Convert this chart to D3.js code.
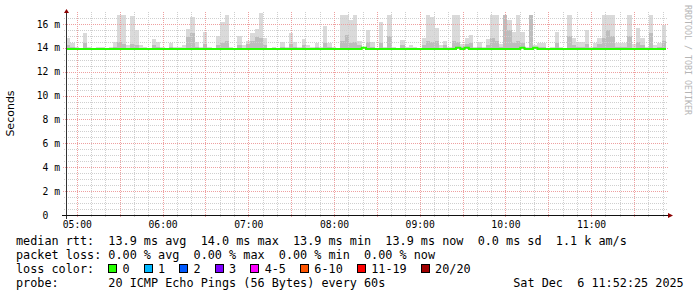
<!DOCTYPE html>
<html>
<head>
<meta charset="utf-8">
<script src="https://cdn.jsdelivr.net/npm/d3@7"></script>
<style>
  html, body { margin: 0; padding: 0; background: #fff; }
  svg { display: block; }
</style>
</head>
<body>
<div id="chart"></div>
<script>
// time span of the graph (7 hours, one value per 3 minutes)
const startTime = new Date(2025, 11, 6, 4, 52, 25);
const endTime = new Date(2025, 11, 6, 11, 52, 25);
const stepMinutes = 3;

// top of the smoke (slowest ping) in ms, per step
const smokeHi = [
  14.8, 14.4, 14.1, 14.0, 15.2, 14.1, 14.0, 14.1, 14.1, 14.0,
  14.1, 14.5, 16.75, 16.75, 14.2, 16.7, 15.5, 14.2, 14.1, 14.0,
  14.7, 14.5, 14.1, 14.0, 14.4, 14.1, 14.1, 14.2, 15.6, 16.6,
  14.5, 14.1, 15.3, 14.1, 14.0, 15.0, 16.2, 16.75, 14.1, 14.0,
  15.0, 14.2, 14.6, 15.2, 15.6, 16.9, 14.8, 14.0, 14.1, 14.0,
  14.5, 14.1, 15.2, 14.5, 14.1, 14.7, 14.2, 14.1, 14.4, 14.1,
  15.8, 14.4, 14.1, 14.0, 16.75, 16.75, 16.3, 16.75, 14.6, 14.1,
  15.5, 14.5, 14.0, 16.2, 14.1, 16.75, 14.1, 14.0, 14.65, 14.1,
  14.2, 14.1, 14.0, 14.8, 16.75, 16.6, 15.7, 14.2, 14.6, 14.1,
  16.75, 16.75, 14.3, 14.8, 15.1, 14.1, 14.5, 14.1, 14.7, 16.75,
  16.75, 14.3, 16.75, 16.3, 15.3, 16.75, 15.3, 14.1, 16.75, 14.2,
  14.4, 14.4, 14.0, 14.1, 15.3, 14.1, 14.0, 16.75, 14.8, 14.5,
  14.5, 15.5, 14.1, 14.4, 14.8, 16.75, 16.75, 16.75, 14.4, 14.4,
  14.4, 16.75, 14.3, 15.7, 14.8, 14.1, 16.75, 14.2, 14.4, 15.9
];

// top of the dense (darker) part of the smoke in ms
const smokeMid = [
  14.2, 14.1, 14.0, 14.0, 14.4, 14.0, 14.0, 14.0, 14.0, 14.0,
  14.0, 14.1, 14.5, 14.3, 14.0, 14.3, 14.2, 14.0, 14.0, 14.0,
  14.2, 14.1, 14.0, 14.0, 14.1, 14.0, 14.0, 14.0, 14.9, 15.2,
  14.1, 14.0, 14.3, 14.0, 14.0, 14.2, 14.4, 14.6, 14.0, 14.0,
  14.2, 14.0, 14.3, 14.6, 14.9, 14.8, 14.2, 14.0, 14.0, 14.0,
  14.1, 14.0, 14.3, 14.1, 14.0, 14.2, 14.0, 14.0, 14.1, 14.0,
  14.4, 14.1, 14.0, 14.0, 14.6, 15.1, 14.4, 14.5, 14.2, 14.0,
  14.5, 14.1, 14.0, 14.4, 14.0, 15.0, 14.0, 14.0, 14.2, 14.0,
  14.0, 14.0, 14.0, 14.2, 14.6, 14.5, 14.6, 14.0, 14.2, 14.0,
  14.6, 14.5, 14.1, 14.3, 14.4, 14.0, 14.1, 14.0, 14.2, 14.8,
  14.6, 14.1, 16.75, 15.5, 14.4, 14.6, 14.4, 14.0, 16.75, 14.0,
  14.1, 14.1, 14.0, 14.0, 14.4, 14.0, 14.0, 15.0, 14.2, 14.1,
  14.1, 14.3, 14.0, 14.1, 14.3, 14.8, 15.5, 15.0, 14.1, 14.1,
  14.1, 15.0, 14.0, 14.5, 14.2, 14.0, 15.2, 14.0, 14.1, 14.6
];

// median rtt in ms
const median = [
  13.9, 13.9, 13.9, 13.9, 13.9, 13.9, 13.9, 13.9, 13.9, 13.9,
  13.9, 13.9, 13.9, 13.9, 13.9, 13.9, 13.9, 13.9, 13.9, 13.9,
  13.9, 13.9, 13.9, 13.9, 13.9, 13.9, 13.9, 13.9, 13.9, 13.9,
  13.9, 13.9, 13.9, 13.9, 13.9, 13.9, 13.9, 13.9, 13.9, 13.9,
  13.9, 13.9, 13.9, 13.9, 13.9, 13.9, 13.9, 13.9, 13.9, 13.9,
  13.9, 13.9, 13.9, 13.9, 13.9, 13.9, 13.9, 13.9, 13.9, 13.9,
  13.9, 13.9, 13.9, 13.9, 13.9, 13.9, 13.9, 13.9, 13.9, 14.0,
  13.9, 13.9, 13.9, 13.9, 13.9, 13.9, 13.9, 13.9, 13.9, 13.9,
  13.9, 13.9, 13.9, 13.9, 13.9, 13.9, 13.9, 13.9, 13.9, 13.9,
  13.9, 14.0, 13.9, 14.0, 13.9, 13.9, 13.9, 13.9, 13.9, 13.9,
  13.9, 13.9, 13.9, 13.9, 13.9, 13.9, 14.0, 13.9, 13.9, 14.0,
  13.9, 13.9, 13.9, 13.9, 13.9, 13.9, 13.9, 13.9, 13.9, 13.9,
  13.9, 13.9, 13.9, 13.9, 13.9, 13.9, 13.9, 13.9, 13.9, 13.9,
  13.9, 13.9, 13.9, 13.9, 13.9, 13.9, 13.9, 13.9, 13.9, 13.9
];

const yTicks = [0, 2, 4, 6, 8, 10, 12, 14, 16];
const yTickLabels = ['0\u00a0\u00a0', '2 m', '4 m', '6 m', '8 m', '10 m', '12 m', '14 m', '16 m'];
const xTickLabels = ['05:00', '06:00', '07:00', '08:00', '09:00', '10:00', '11:00'];

const legendLines = [
  'median rtt:  13.9 ms avg  14.0 ms max  13.9 ms min  13.9 ms now  0.0 ms sd  1.1 k am/s',
  'packet loss: 0.00 % avg  0.00 % max  0.00 % min  0.00 % now',
  'loss color:',
  'probe:       20 ICMP Echo Pings (56 Bytes) every 60s'
];
const lossLabels = ['0', '1', '2', '3', '4-5', '6-10', '11-19', '20/20'];
const lossColors = ['#26ff00', '#00b8ff', '#0059ff', '#7e00ff', '#ff00ff', '#ff5500', '#ff0000', '#a00000'];
const dateStamp = 'Sat Dec  6 11:52:25 2025';
const watermark = 'RRDTOOL / TOBI OETIKER';

// layout
const width = 697, height = 297;
const plot = { left: 66, right: 666, top: 12, bottom: 215 };
const mono = '"DejaVu Sans Mono", monospace';
const legendSize = 11.8;
const cw = legendSize * 0.602;
const nb = s => s.replace(/ /g, '\u00a0');

const x = d3.scaleTime().domain([startTime, endTime]).range([plot.left, plot.right]);
const y = d3.scaleLinear().domain([0, 17]).range([plot.bottom, plot.top]);
const binTime = i => d3.timeMinute.offset(startTime, i * stepMinutes);
const hourTimes = xTickLabels.map(s => new Date(2025, 11, 6, +s.slice(0, 2), +s.slice(3)));

const svg = d3.select('#chart').append('svg')
  .attr('width', width)
  .attr('height', height)
  .style('background', '#fff');

// smoke: light outer part, darker dense part
const smoke = svg.append('g').attr('shape-rendering', 'crispEdges');
[[smokeHi, '#dadada'], [smokeMid, '#bdbdbd']].forEach(([vals, color]) => {
  smoke.append('g').selectAll('rect')
    .data(vals)
    .join('rect')
    .attr('x', (d, i) => x(binTime(i)))
    .attr('width', (d, i) => x(binTime(i + 1)) - x(binTime(i)))
    .attr('y', d => y(d))
    .attr('height', (d, i) => Math.max(0, y(median[i]) - y(d)))
    .attr('fill', color);
});

// grid, dotted like rrdtool: gray every 10 min / 0.5 ms, red every 30 min / 2 ms
const grid = svg.append('g')
  .attr('shape-rendering', 'crispEdges')
  .attr('stroke-width', 1)
  .attr('stroke-dasharray', '1,1');

const gridX = [];
for (let t = d3.timeMinute.offset(hourTimes[0], -10); t <= endTime; t = d3.timeMinute.offset(t, 10)) {
  if (t >= startTime) gridX.push(t);
}
const isMajorX = t => t.getMinutes() % 30 === 0;
const gridY = d3.range(1, 34).map(k => k / 2);
const isMajorY = v => v % 2 === 0;
const px = v => Math.round(v) + 0.5;

grid.append('g').selectAll('line')
  .data(gridX.filter(t => !isMajorX(t))).join('line')
  .attr('x1', d => px(x(d))).attr('x2', d => px(x(d)))
  .attr('y1', plot.top).attr('y2', plot.bottom + 3)
  .attr('stroke', '#cfcfcf');
grid.append('g').selectAll('line')
  .data(gridY.filter(v => !isMajorY(v))).join('line')
  .attr('x1', plot.left - 2).attr('x2', plot.right + 2)
  .attr('y1', d => px(y(d))).attr('y2', d => px(y(d)))
  .attr('stroke', '#cfcfcf');
grid.append('g').selectAll('line')
  .data(gridX.filter(isMajorX)).join('line')
  .attr('x1', d => px(x(d))).attr('x2', d => px(x(d)))
  .attr('y1', plot.top).attr('y2', plot.bottom + 3)
  .attr('stroke', '#eea0a0');
grid.append('g').selectAll('line')
  .data(gridY.filter(isMajorY)).join('line')
  .attr('x1', plot.left - 3).attr('x2', plot.right + 2)
  .attr('y1', d => px(y(d))).attr('y2', d => px(y(d)))
  .attr('stroke', '#eea0a0');

// median line
const medianPts = median.map((d, i) => [binTime(i), d]).concat([[endTime, median[median.length - 1]]]);
svg.append('path')
  .datum(medianPts)
  .attr('fill', 'none')
  .attr('stroke', lossColors[0])
  .attr('stroke-width', 2)
  .attr('d', d3.line().curve(d3.curveStepAfter).x(d => x(d[0])).y(d => y(d[1])));

// axes
const yAxis = svg.append('g')
  .attr('transform', `translate(${plot.left},0)`)
  .call(d3.axisLeft(y).tickValues(yTicks).tickFormat((d, i) => nb(yTickLabels[i])).tickSize(0).tickPadding(6));
const xAxis = svg.append('g')
  .attr('transform', `translate(0,${plot.bottom})`)
  .call(d3.axisBottom(x).tickValues(hourTimes).tickFormat((d, i) => xTickLabels[i]).tickSize(0).tickPadding(6));
[yAxis, xAxis].forEach(a => {
  a.select('.domain').remove();
  a.selectAll('text').attr('font-family', mono).attr('font-size', 9.7).attr('fill', '#000');
});

svg.append('line')
  .attr('x1', plot.left + 0.5).attr('x2', plot.left + 0.5)
  .attr('y1', plot.top).attr('y2', plot.bottom + 4)
  .attr('stroke', '#333').attr('shape-rendering', 'crispEdges');
svg.append('line')
  .attr('x1', plot.left - 4).attr('x2', plot.right + 2)
  .attr('y1', plot.bottom + 0.5).attr('y2', plot.bottom + 0.5)
  .attr('stroke', '#111').attr('shape-rendering', 'crispEdges');
svg.append('path')
  .attr('d', `M${plot.left - 2},${plot.top + 1}L${plot.left + 3},${plot.top + 1}L${plot.left + 0.5},${plot.top - 3}Z`)
  .attr('fill', '#8b0000');
svg.append('path')
  .attr('d', `M${plot.right + 2},${plot.bottom - 2}L${plot.right + 2},${plot.bottom + 3}L${plot.right + 7},${plot.bottom + 0.5}Z`)
  .attr('fill', '#8b0000');

// axis title and watermark
svg.append('text')
  .attr('transform', `translate(14,${(plot.top + plot.bottom) / 2}) rotate(-90)`)
  .attr('text-anchor', 'middle')
  .attr('font-family', '"DejaVu Sans", sans-serif')
  .attr('font-size', 11)
  .text('Seconds');
svg.append('text')
  .attr('transform', 'translate(685,5) rotate(90)')
  .attr('font-family', mono)
  .attr('font-size', 8.3)
  .attr('fill', '#b5b5b5')
  .text(watermark);

// legend
const legend = svg.append('g')
  .attr('font-family', mono)
  .attr('font-size', legendSize)
  .attr('fill', '#000');
const baseY = [245, 259, 273, 287];
legendLines.forEach((s, i) => {
  legend.append('text').attr('x', 16).attr('y', baseY[i]).text(nb(s));
});
legend.append('text').attr('x', 16 + 70 * cw).attr('y', baseY[3]).text(nb(dateStamp));

let col = 13;
lossLabels.forEach((lab, i) => {
  legend.append('rect')
    .attr('x', Math.round(16 + col * cw) + 0.5)
    .attr('y', baseY[2] - 8.5)
    .attr('width', 8).attr('height', 8)
    .attr('fill', lossColors[i])
    .attr('stroke', '#000');
  legend.append('text')
    .attr('x', 16 + (col + 2) * cw)
    .attr('y', baseY[2])
    .text(lab);
  col += 2 + lab.length + 2;
});
</script>
</body>
</html>
